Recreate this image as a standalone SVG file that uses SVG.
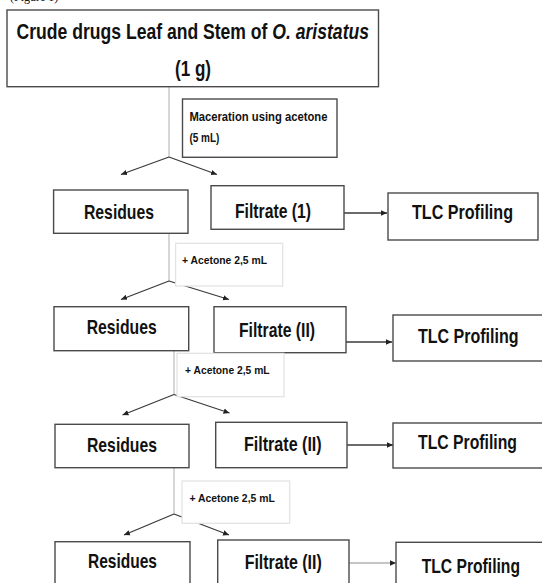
<svg xmlns="http://www.w3.org/2000/svg" width="542" height="583" viewBox="0 0 542 583">
<style>
.box{fill:#fff;stroke:#4a4a4a;stroke-width:1.4}
.lbl{fill:#fff;stroke:#e2e2e2;stroke-width:1.2}
.t{font-family:"Liberation Sans",Arial,sans-serif;font-weight:bold;fill:#111}
.big{font-size:21px}
.sm{font-size:11.5px}
.stem{stroke:#b5b5b5;stroke-width:1.1;fill:none}
.arr{stroke:#3a3a3a;stroke-width:1.3;fill:none;marker-end:url(#ah)}
.arr2{stroke:#8a8a8a;stroke-width:1;fill:none;marker-end:url(#ah)}
</style>
<defs>
<marker id="ah" markerUnits="userSpaceOnUse" markerWidth="7" markerHeight="7" refX="6" refY="3.5" orient="auto">
<path d="M0,0.8 L6,3.5 L0,6.2 Z" fill="#222"/>
</marker>
</defs>
<rect width="542" height="583" fill="#fff"/>
<text x="10" y="0.8" font-family="Liberation Serif,serif" font-size="12" fill="#111">(Figure 1)</text>

<g id="connectors">
<line class="stem" x1="169" y1="87" x2="169" y2="157"/>
<line class="arr" x1="169" y1="157" x2="121" y2="174.5"/>
<line class="arr" x1="169" y1="157" x2="217" y2="174.5"/>
<line class="arr" x1="344" y1="213" x2="387" y2="213"/>
<line class="stem" x1="169" y1="233" x2="169" y2="281"/>
<line class="arr" x1="169" y1="281" x2="121" y2="299.5"/>
<line class="arr" x1="169" y1="281" x2="229" y2="299.5"/>
<line class="arr" x1="346" y1="342" x2="392" y2="342"/>
<line class="stem" x1="174" y1="348" x2="174" y2="394.5"/>
<line class="arr" x1="174" y1="394.5" x2="122.5" y2="415"/>
<line class="arr" x1="174" y1="394.5" x2="229.5" y2="413"/>
<line class="arr" x1="347" y1="445" x2="393" y2="445"/>
<line class="stem" x1="174" y1="468" x2="174" y2="514"/>
<line class="arr" x1="174" y1="514" x2="124" y2="535"/>
<line class="arr" x1="174" y1="514" x2="229" y2="535"/>
<line class="arr2" x1="349" y1="563" x2="396" y2="563"/>
</g>

<g id="crude">
<rect class="box" x="7" y="10" width="371.5" height="76.7"/>
<text class="t" font-size="22" x="16.6" y="38.5" textLength="352.4" lengthAdjust="spacingAndGlyphs">Crude drugs Leaf and Stem of <tspan font-style="italic">O. aristatus</tspan></text>
<text class="t" font-size="22" x="175" y="75.5" textLength="36" lengthAdjust="spacingAndGlyphs">(1 g)</text>
</g>

<g id="maceration">
<rect class="box" x="182.5" y="99" width="154.5" height="58.3"/>
<text class="t" font-size="12" x="189.4" y="120.5" textLength="138" lengthAdjust="spacingAndGlyphs">Maceration using acetone</text>
<text class="t" font-size="12" x="189.4" y="142" textLength="30" lengthAdjust="spacingAndGlyphs">(5 mL)</text>
</g>

<g id="residues1">
<rect class="box" x="53.6" y="190" width="134.4" height="43.3"/>
<text class="t big" x="84" y="219" textLength="70" lengthAdjust="spacingAndGlyphs">Residues</text>
</g>
<g id="filtrate1">
<rect class="box" x="211" y="185.7" width="133" height="43.6"/>
<text class="t big" x="235" y="218.3" textLength="76" lengthAdjust="spacingAndGlyphs">Filtrate (1)</text>
</g>
<g id="tlc1">
<rect class="box" x="388" y="193" width="150" height="47"/>
<text class="t big" x="412" y="218.5" textLength="101" lengthAdjust="spacingAndGlyphs">TLC Profiling</text>
</g>
<g id="acetone1">
<rect class="lbl" x="175.6" y="243.3" width="107.1" height="42.7"/>
<text class="t sm" x="182" y="263.5" textLength="85" lengthAdjust="spacingAndGlyphs">+ Acetone 2,5 mL</text>
</g>

<g id="residues2">
<rect class="box" x="54" y="306.7" width="134.7" height="44"/>
<text class="t big" x="86.7" y="334" textLength="70" lengthAdjust="spacingAndGlyphs">Residues</text>
</g>
<g id="filtrate2">
<rect class="box" x="214" y="306.7" width="132" height="46"/>
<text class="t big" x="239" y="336.7" textLength="76" lengthAdjust="spacingAndGlyphs">Filtrate (II)</text>
</g>
<g id="tlc2">
<rect class="box" x="393" y="315" width="152" height="46"/>
<text class="t big" x="418" y="343.3" textLength="100.5" lengthAdjust="spacingAndGlyphs">TLC Profiling</text>
</g>
<g id="acetone2">
<rect class="lbl" x="177" y="353.3" width="107" height="43.4"/>
<text class="t sm" x="185" y="374" textLength="84.6" lengthAdjust="spacingAndGlyphs">+ Acetone 2,5 mL</text>
</g>

<g id="residues3">
<rect class="box" x="55" y="424.3" width="134" height="43.4"/>
<text class="t big" x="87" y="451.7" textLength="70" lengthAdjust="spacingAndGlyphs">Residues</text>
</g>
<g id="filtrate3">
<rect class="box" x="215.7" y="422.3" width="131.3" height="45.4"/>
<text class="t big" x="244" y="451" textLength="77.7" lengthAdjust="spacingAndGlyphs">Filtrate (II)</text>
</g>
<g id="tlc3">
<rect class="box" x="393" y="423" width="152" height="45"/>
<text class="t big" x="418" y="449" textLength="99" lengthAdjust="spacingAndGlyphs">TLC Profiling</text>
</g>
<g id="acetone3">
<rect class="lbl" x="182" y="481" width="107.7" height="42.3"/>
<text class="t sm" x="189.4" y="501.7" textLength="85.4" lengthAdjust="spacingAndGlyphs">+ Acetone 2,5 mL</text>
</g>

<g id="residues4">
<rect class="box" x="55" y="541.7" width="135" height="60"/>
<text class="t big" x="88" y="567.7" textLength="69" lengthAdjust="spacingAndGlyphs">Residues</text>
</g>
<g id="filtrate4">
<rect class="box" x="217.7" y="540" width="131.3" height="60"/>
<text class="t big" x="244.7" y="569" textLength="77" lengthAdjust="spacingAndGlyphs">Filtrate (II)</text>
</g>
<g id="tlc4">
<rect class="box" x="396" y="542.3" width="152" height="60"/>
<text class="t big" x="421.7" y="572.7" textLength="98.3" lengthAdjust="spacingAndGlyphs">TLC Profiling</text>
</g>
</svg>
